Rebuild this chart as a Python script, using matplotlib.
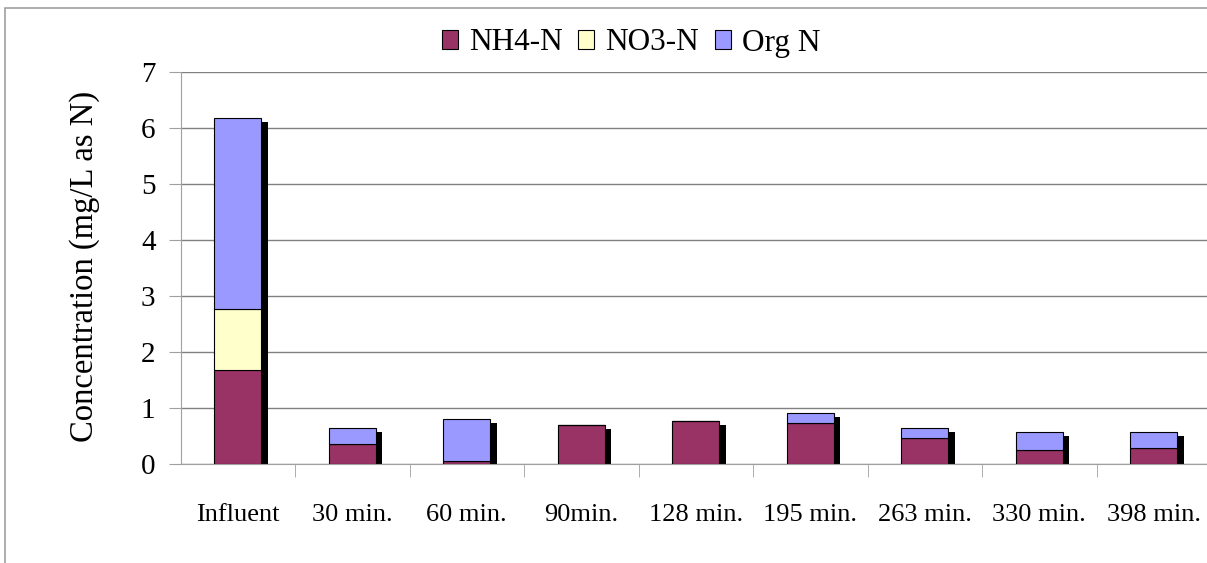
import numpy as np
import matplotlib.pyplot as plt
from matplotlib.patches import Rectangle

# data
samples = ["Influent", "30 min.", "60 min.", "90min.", "128 min.",
           "195 min.", "263 min.", "330 min.", "398 min."]
nh4_n = [1.68, 0.36, 0.06, 0.69, 0.76, 0.73, 0.46, 0.25, 0.28]
no3_n = [1.09, 0.00, 0.00, 0.00, 0.00, 0.00, 0.00, 0.00, 0.00]
org_n = [3.41, 0.29, 0.74, 0.00, 0.00, 0.18, 0.19, 0.32, 0.29]

plt.rcParams['font.family'] = ['Liberation Serif', 'DejaVu Serif']

W, H = 1207, 563
fig = plt.figure(figsize=(W / 100, H / 100), dpi=100)

# plot area in pixels: left 180.5, right ~1211 (runs past the image), y 72..464
ax = fig.add_axes([180.5 / W, 1 - 464 / H, (1211 - 180.5) / W, (464 - 72) / H])

x = np.arange(len(samples))
width = 0.41
nh4 = np.array(nh4_n)
no3 = np.array(no3_n)
org = np.array(org_n)
total = nh4 + no3 + org

# black drop shadow behind each stack
ax.bar(x + 0.055, total - 0.07, width, color="black", zorder=2)

ax.bar(x, nh4, width, color="#993366", edgecolor="black", linewidth=0.8,
       label="NH4-N", zorder=3)
ax.bar(x, no3, width, bottom=nh4, color="#FFFFCC", edgecolor="black",
       linewidth=0.8, label="NO3-N", zorder=3)
ax.bar(x, org, width, bottom=nh4 + no3, color="#9999FF", edgecolor="black",
       linewidth=0.8, label="Org N", zorder=3)

ax.set_xlim(-0.5, len(samples) - 0.5)
ax.set_ylim(0, 7)
ax.set_yticks(range(0, 8))
ax.yaxis.grid(True, color="#808080", linewidth=1)
ax.set_axisbelow(True)

ax.set_xticks(x)
ax.set_xticklabels(samples, fontsize=19)
ax.set_xticks(np.arange(0.5, len(samples) - 0.5), minor=True)
ax.tick_params(axis="x", which="major", length=0, pad=29)
ax.tick_params(axis="x", which="minor", length=9, color="#a0a0a0", direction="out")
ax.tick_params(axis="y", length=9, color="#a0a0a0", labelsize=21, pad=9)

for s in ["top", "right"]:
    ax.spines[s].set_visible(False)
ax.spines["left"].set_color("#a0a0a0")
ax.spines["bottom"].set_color("#a0a0a0")

ax.set_ylabel("Concentration (mg/L as N)", fontsize=23.5, va="center")
ax.yaxis.set_label_coords((85 - 180.5) / 1030.5, (464 - 266.5) / 392)

leg = fig.legend(loc="center", bbox_to_anchor=(631 / W, 1 - 43 / H), ncol=3,
                 frameon=False, fontsize=22.5, handlelength=0.52, handleheight=0.52,
                 handletextpad=0.35, columnspacing=0.5)

# outer chart border
fig.patches.append(Rectangle((5 / W, -0.1), 1.2, 1 - 8 / H + 0.1,
                             transform=fig.transFigure, fill=False,
                             edgecolor="#a0a0a0", linewidth=1.2))

fig.savefig("out.png", dpi=100)
